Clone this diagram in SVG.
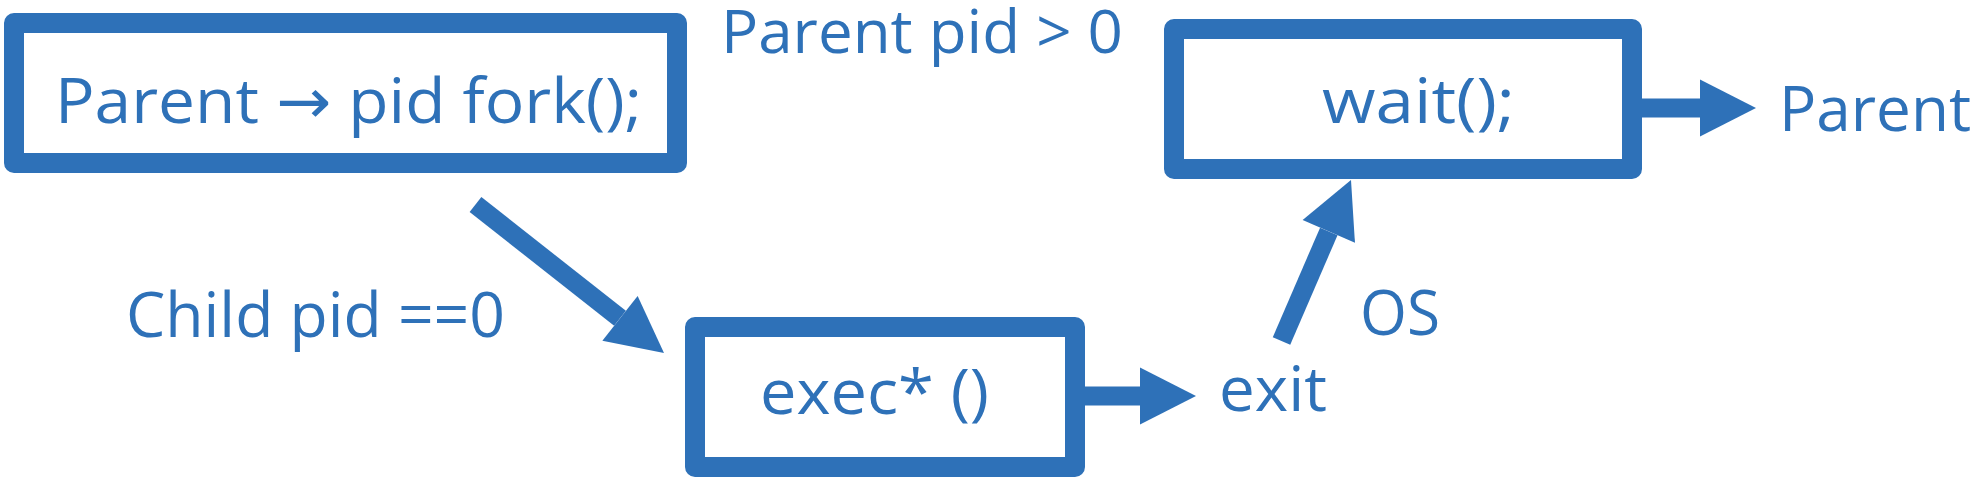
<svg xmlns="http://www.w3.org/2000/svg" width="1976" height="486" viewBox="0 0 1976 486">
  <style>
    .box { fill: #ffffff; stroke: #2E71B8; stroke-width: 20; stroke-linejoin: round; }
    .lbl { font-family: "Open Sans", "Noto Sans", "DejaVu Sans", sans-serif; font-size: 63px; fill: #2E71B8; }
    .top { font-size: 61px; }
    .conn { stroke: #2E71B8; stroke-width: 19; fill: none; marker-end: url(#head); }
  </style>
  <defs>
    <marker id="head" markerUnits="userSpaceOnUse" markerWidth="57" markerHeight="57" refX="0" refY="28.5" orient="auto" viewBox="0 0 57 57" overflow="visible">
      <path d="M0,0 L56,28.5 L0,57 Z" fill="#2E71B8"/>
    </marker>
  </defs>
  <rect width="1976" height="486" fill="#ffffff"/>

  <g id="connectors">
    <line class="conn" x1="475.5" y1="204.5" x2="620" y2="318.3"/>
    <line class="conn" x1="1075" y1="396" x2="1140" y2="396"/>
    <line class="conn" x1="1281.5" y1="341" x2="1328.8" y2="231.4"/>
    <line class="conn" x1="1632" y1="108" x2="1700" y2="108"/>
  </g>

  <g id="node-fork">
    <rect class="box" x="14" y="23" width="663" height="140"/>
    <text class="lbl" x="55" y="123" textLength="587" lengthAdjust="spacingAndGlyphs">Parent → pid fork();</text>
  </g>

  <g id="node-wait">
    <rect class="box" x="1174" y="29" width="458" height="140"/>
    <text class="lbl" x="1322" y="123" textLength="193" lengthAdjust="spacingAndGlyphs">wait();</text>
  </g>

  <g id="node-exec">
    <rect class="box" x="695" y="327" width="380" height="140"/>
    <text class="lbl" x="760" y="414" textLength="229" lengthAdjust="spacingAndGlyphs">exec* ()</text>
  </g>

  <g id="node-exit">
    <text class="lbl" x="1219" y="411" textLength="108" lengthAdjust="spacingAndGlyphs">exit</text>
  </g>

  <g id="node-parent">
    <text class="lbl" x="1779" y="131" textLength="192" lengthAdjust="spacingAndGlyphs">Parent</text>
  </g>

  <g id="labels">
    <text class="lbl top" x="721" y="53" textLength="402" lengthAdjust="spacingAndGlyphs">Parent pid &gt; 0</text>
    <text class="lbl" x="126" y="337" textLength="379" lengthAdjust="spacingAndGlyphs">Child pid ==0</text>
    <text class="lbl" x="1360" y="335" textLength="80" lengthAdjust="spacingAndGlyphs">OS</text>
  </g>
</svg>
